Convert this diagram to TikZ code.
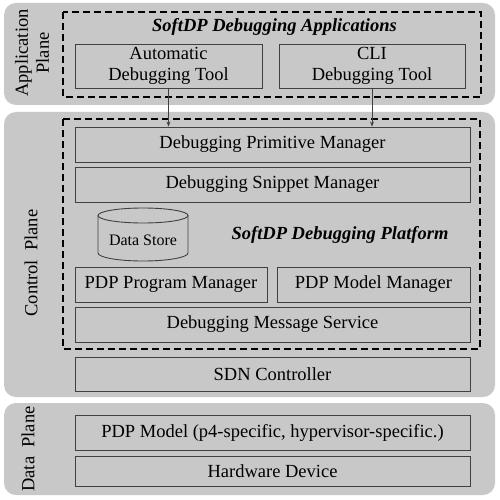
\documentclass[tikz,border=0pt]{standalone}
\usepackage{fontspec}
\setmainfont{Liberation Serif}
\usetikzlibrary{arrows.meta}
\definecolor{panelgray}{HTML}{C8C8C8}
\definecolor{boxline}{HTML}{404040}
\begin{document}
\begin{tikzpicture}[x=1pt,y=-1pt,
  panel/.style={fill=panelgray,draw=none,rounded corners=12pt},
  dashbox/.style={draw=black,line width=1.4pt,dash pattern=on 7pt off 4pt},
  box/.style={draw=boxline,line width=0.9pt,inner sep=0pt,align=center,font=\fontsize{18.5}{21}\selectfont},
  title/.style={font=\fontsize{18.5}{21}\selectfont\bfseries\itshape},
  planelabel/.style={rotate=90,align=center,font=\fontsize{18.5}{21}\selectfont},
  conn/.style={draw=boxline,line width=0.7pt,-{Stealth[length=5pt,width=4pt]}}]
\useasboundingbox (0,0) rectangle (500,500);
\fill[white] (0,0) rectangle (500,500);
% panels
\path[panel] (4,3) rectangle (495,105);
\path[panel] (4,112) rectangle (495,397);
\path[panel] (4,403) rectangle (495,495);
% plane labels
\node[planelabel] (lapp) at (32,53) {Application\\Plane};
\node[planelabel] (lctl) at (31,263) {Control~~Plane};
\node[planelabel] (ldat) at (28,449) {Data~~Plane};
% dashed boxes
\draw[dashbox] (63,12) rectangle (481,97);
\draw[dashbox] (63,119) rectangle (480,349);
% application plane
\node[title] (apptitle) at (274.5,27) {SoftDP Debugging Applications};
\node[box,minimum width=187pt,minimum height=44pt] (auto) at (168.5,66) {Automatic\\Debugging Tool};
\node[box,minimum width=186pt,minimum height=44pt] (cli) at (372,66) {CLI\\Debugging Tool};
% control plane
\node[box,minimum width=395pt,minimum height=35pt] (dpm) at (272.5,144.5) {Debugging Primitive Manager};
\node[box,minimum width=395pt,minimum height=35pt] (dsm) at (272.5,184.5) {Debugging Snippet Manager};
% data store cylinder
\draw[boxline,line width=0.9pt] (98,215.5) -- (98,253) arc[start angle=180,end angle=0,x radius=45,y radius=8] -- (188,215.5);
\draw[boxline,line width=0.9pt] (143,215.5) ellipse [x radius=45,y radius=7.5];
\node[font=\fontsize{16}{19}\selectfont] (ds) at (143,240) {Data Store};
\node[title] (plattitle) at (340,235) {SoftDP Debugging Platform};
\node[box,minimum width=192pt,minimum height=35pt] (ppm) at (171,284.5) {PDP Program Manager};
\node[box,minimum width=193pt,minimum height=35pt] (pmm) at (373.5,284.5) {PDP Model Manager};
\node[box,minimum width=395pt,minimum height=35pt] (dms) at (272.5,324.5) {Debugging Message Service};
\node[box,minimum width=395pt,minimum height=34pt] (sdn) at (272.5,374) {SDN Controller};
% data plane
\node[box,minimum width=395pt,minimum height=35pt] (pdpm) at (272.5,432.5) {PDP Model (p4-specific, hypervisor-specific.)};
\node[box,minimum width=395pt,minimum height=30pt] (hw) at (272.5,471) {Hardware Device};
% connectors
\draw[conn] (auto.south) -- (auto.south |- dpm.north);
\draw[conn] (cli.south) -- (cli.south |- dpm.north);
\end{tikzpicture}
\end{document}
